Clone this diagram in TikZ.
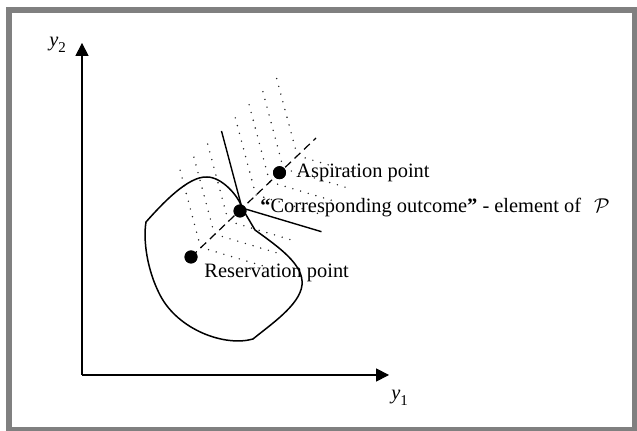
\documentclass[tikz,border=0pt]{standalone}
\usepackage{fontspec}
\setmainfont{Liberation Serif}
\usetikzlibrary{arrows.meta}
\definecolor{framegray}{RGB}{128,128,128}
\begin{document}
\begin{tikzpicture}[x=0.5pt,y=-0.5pt,
  lbl/.style={inner sep=0pt,anchor=base west,font=\fontsize{10.2}{12}\selectfont},
  axis/.style={line width=0.55pt,-{Triangle[length=6.5pt,width=6.6pt]}},
  bound/.style={line width=0.75pt,line join=round},
  cone/.style={line width=0.7pt},
  contour/.style={line width=0.8pt,line cap=round,dash pattern=on 0pt off 4pt,black!85},
  ray/.style={line width=0.6pt,dash pattern=on 4pt off 2.5pt},
  pt/.style={circle,fill=black,inner sep=0pt,minimum size=6.5pt}]
\useasboundingbox (0,0) rectangle (637,431);
\draw[framegray,line width=2.75pt] (9,10) rectangle (634.5,430);
% axes
\coordinate (O) at (82,375);
\coordinate (Ytip) at (82,43);
\coordinate (Xtip) at (389,375);
\draw[axis] (O) -- (Ytip);
\draw[axis] (O) -- (Xtip);
\node[lbl] (y2) at (49,47) {\textit{y}\raisebox{-0.6ex}{\fontsize{7.5}{9}\selectfont 2}};
\node[lbl] (y1) at (391,400) {\textit{y}\raisebox{-0.6ex}{\fontsize{7.5}{9}\selectfont 1}};
% level contours
\foreach \k in {-3,-2,-1,1,2,3,4}{
  \draw[contour] ({221.5+13.8*\k},{131-13.1*\k}) -- ({242+13.8*\k},{208-13.1*\k}) -- ({311+13.8*\k},{228.6-13.1*\k});
}
% region boundary
\draw[bound] (146,222) .. controls (162,204) and (188,176) .. (207,177)
  .. controls (222,177) and (238.9,196.4) .. (242,208)
  -- (255,230)
  .. controls (280,248) and (304,265) .. (302,285)
  .. controls (300,305) and (270,325) .. (253,339)
  .. controls (225,347) and (178,330) .. (160,295)
  .. controls (147,270) and (143,240) .. (146,222) -- cycle;
% cone
\coordinate (C) at (242,208);
\coordinate (Ctop) at (221.5,131);
\coordinate (Cright) at (321.5,231.7);
\draw[cone] (Ctop) -- (C) -- (Cright);
% points
\coordinate (rayend) at (316,138);
\node[pt] (res) at (191,257) {};
\node[pt] (cor) at (240,211) {};
\node[pt] (asp) at (279.5,172.7) {};
\draw[ray] (res.center) -- (rayend);
\node[pt] at (res) {};
\node[pt] at (cor) {};
\node[pt] at (asp) {};
% labels
\node[lbl] (asplbl) at (296,178) {Aspiration point};
\node[lbl] (reslbl) at (204,278) {Reservation point};
\node[lbl] (corlbl) at (260,213) {\textbf{“}Corresponding outcome\textbf{”} - element of\hspace{6.5pt}$\mathcal{P}$};
\end{tikzpicture}
\end{document}
